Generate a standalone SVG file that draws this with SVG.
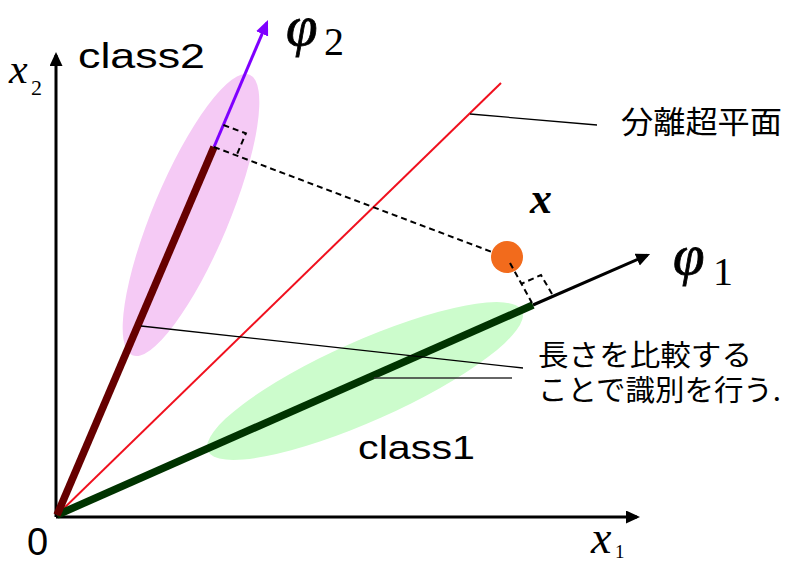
<svg xmlns="http://www.w3.org/2000/svg" width="785" height="562" viewBox="0 0 785 562">
<style>
.sans{font-family:"Liberation Sans",Arial,sans-serif;fill:#000}
.jp{font-family:"Noto Sans CJK JP","Noto Sans CJK SC",sans-serif;fill:#000}
.math{font-family:"Liberation Serif","Times New Roman",serif;fill:#000}
.it{font-style:italic}
.phi{font-style:italic;font-size:57px;stroke:#000;stroke-width:0.8}
.axis{stroke:#000;stroke-width:3;fill:none}
.dash{stroke:#000;stroke-width:2;fill:none;stroke-dasharray:6 4}
.lead{stroke:#000;stroke-width:1.3;fill:none}
</style>
<defs>
<marker id="ahk" markerUnits="userSpaceOnUse" markerWidth="16" markerHeight="14" refX="11" refY="6.5" orient="auto">
<path d="M0,0 L14,6.5 L0,13 z" fill="#000"/>
</marker>
<marker id="ahp" markerUnits="userSpaceOnUse" markerWidth="17" markerHeight="14" refX="12" refY="6.5" orient="auto">
<path d="M0,0 L15,6.5 L0,13 z" fill="#7f00ff"/>
</marker>
</defs>
<rect width="785" height="562" fill="#fff"/>

<g id="class2-region">
<ellipse cx="191" cy="215" rx="152" ry="38" transform="rotate(-67.3 191 215)" fill="#f5caf5"/>
</g>
<g id="class1-region">
<ellipse cx="365" cy="381" rx="172" ry="40" transform="rotate(-24 365 381)" fill="#ccfccc"/>
</g>

<g id="axes">
<line class="axis" x1="56" y1="517" x2="637" y2="517" marker-end="url(#ahk)"/>
<line class="axis" x1="56" y1="517" x2="56" y2="55" marker-end="url(#ahk)"/>
</g>

<g id="hyperplane">
<line x1="57" y1="515" x2="501" y2="83" stroke="#f0101e" stroke-width="2"/>
</g>

<g id="phi1-axis">
<line x1="533" y1="305" x2="647.3" y2="255.2" stroke="#000" stroke-width="3" marker-end="url(#ahk)"/>
<line x1="57" y1="515" x2="533" y2="305" stroke="#003300" stroke-width="7.5"/>
</g>
<g id="phi2-axis">
<line x1="214" y1="147" x2="266.8" y2="22.8" stroke="#7f00ff" stroke-width="3" marker-end="url(#ahp)"/>
<line x1="57" y1="515" x2="214" y2="147" stroke="#660000" stroke-width="7.5"/>
</g>

<g id="sample-x">
<circle cx="507" cy="257" r="16" fill="#f26b1c"/>
</g>

<g id="connectors">
<path class="dash" d="M214,147 L492,252"/>
<path class="dash" d="M510,263 L532,303"/>
<path class="dash" d="M223.4,125 L245.9,133.4 L236.5,155.4"/>
<path class="dash" d="M552,294 L541,275 L521,284"/>
<line class="lead" x1="470" y1="114" x2="597" y2="125"/>
<line class="lead" x1="141" y1="326" x2="523" y2="368"/>
<line x1="374" y1="378" x2="512" y2="378" stroke="#333" stroke-width="1.3"/>
</g>

<g id="labels">
<text class="sans" x="78" y="68" font-size="35" textLength="127" lengthAdjust="spacingAndGlyphs">class2</text>
<text class="sans" x="358" y="459" font-size="34" textLength="117" lengthAdjust="spacingAndGlyphs">class1</text>
<text class="sans" x="27" y="555" font-size="38">0</text>
<text class="jp" x="621" y="133" font-size="31" textLength="161" lengthAdjust="spacingAndGlyphs">分離超平面</text>
<text class="jp" x="538" y="366" font-size="29" textLength="214" lengthAdjust="spacingAndGlyphs">長さを比較する</text>
<text class="jp" x="538" y="401" font-size="29" textLength="243" lengthAdjust="spacingAndGlyphs">ことで識別を行う.</text>
<text class="math it" x="530" y="213" font-size="44" font-weight="bold">x</text>
<text class="math it" x="9" y="83" font-size="42">x</text>
<text class="math" x="31" y="95" font-size="22">2</text>
<text class="math it" x="591" y="553" font-size="46">x</text>
<text class="math" x="615" y="558" font-size="19">1</text>
<text class="math phi" x="286" y="45">φ</text>
<text class="math" x="324" y="55" font-size="40">2</text>
<text class="math phi" x="673" y="274">φ</text>
<text class="math" x="713" y="285" font-size="40">1</text>
</g>
</svg>
